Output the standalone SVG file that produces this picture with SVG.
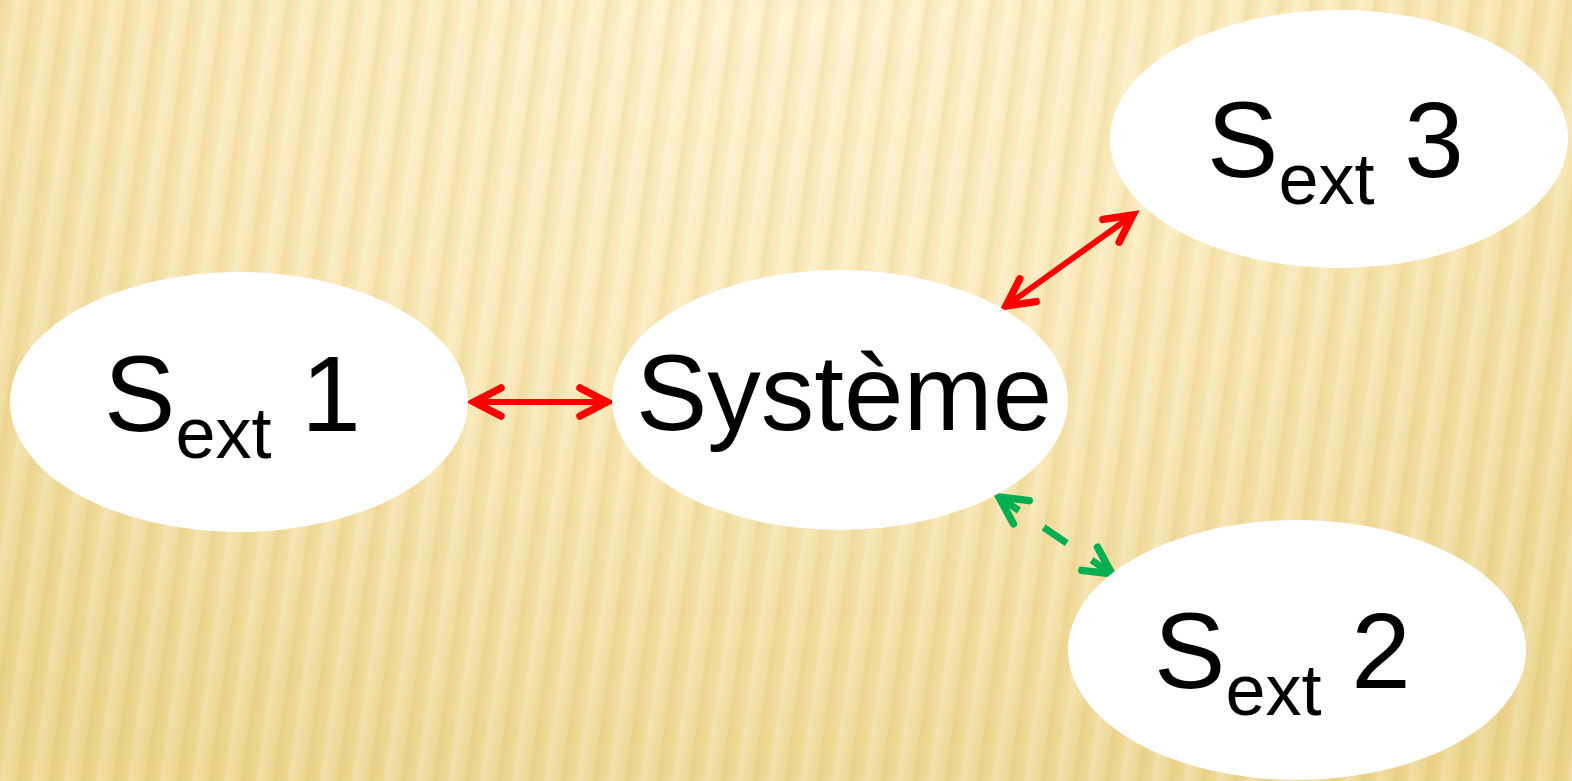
<svg xmlns="http://www.w3.org/2000/svg" width="1572" height="781" viewBox="0 0 1572 781">
  <defs>
    <radialGradient id="bg" cx="786" cy="-60" r="1250" gradientUnits="userSpaceOnUse" gradientTransform="translate(786 -60) scale(1 0.75) translate(-786 60)">
      <stop offset="0" stop-color="#FFF4D2"/>
      <stop offset="0.45" stop-color="#FBE9BA"/>
      <stop offset="1" stop-color="#ECD58E"/>
    </radialGradient>
    <linearGradient id="stripeG" x1="0" y1="0" x2="1" y2="0">
      <stop offset="0" stop-color="#D9B85A" stop-opacity="0.22"/>
      <stop offset="0.25" stop-color="#D9B85A" stop-opacity="0.06"/>
      <stop offset="0.5" stop-color="#FFFFFF" stop-opacity="0.22"/>
      <stop offset="0.75" stop-color="#FFFFFF" stop-opacity="0.06"/>
      <stop offset="1" stop-color="#D9B85A" stop-opacity="0.22"/>
    </linearGradient>
    <pattern id="stripes" width="32" height="800" patternUnits="userSpaceOnUse" patternTransform="skewX(-8)">
      <rect width="32" height="800" fill="url(#stripeG)"/>
    </pattern>
    <marker id="headR" markerUnits="userSpaceOnUse" viewBox="-40 -20 50 40" refX="0" refY="0" markerWidth="50" markerHeight="40" orient="auto-start-reverse" overflow="visible">
      <path d="M -27 -14 L 0 0 L -27 14" fill="none" stroke="#FF0000" stroke-width="7.5" stroke-linecap="round" stroke-linejoin="miter"/>
    </marker>
    <marker id="headG" markerUnits="userSpaceOnUse" viewBox="-40 -20 50 40" refX="0" refY="0" markerWidth="50" markerHeight="40" orient="auto-start-reverse" overflow="visible">
      <path d="M -27 -14 L 0 0 L -27 14" fill="none" stroke="#00B050" stroke-width="7.5" stroke-linecap="round" stroke-linejoin="miter"/>
    </marker>
    <style>
      .node { fill: #FFFFFF; }
      .lbl { font-family: "Liberation Sans", Arial, sans-serif; font-size: 107px; fill: #000000; }
      .sub { font-size: 72px; }
      .red { stroke: #FF0000; stroke-width: 6; fill: none; }
      .green { stroke: #00B050; stroke-width: 7; fill: none; stroke-dasharray: 24 30 28 30 30; }
    </style>
  </defs>

  <rect width="1572" height="781" fill="url(#bg)"/>
  <rect width="1572" height="781" fill="url(#stripes)"/>

  <g id="connectors">
    <line class="red" x1="474" y1="402" x2="607" y2="402" marker-start="url(#headR)" marker-end="url(#headR)"/>
    <line class="red" x1="1006" y1="306" x2="1133" y2="215" marker-start="url(#headR)" marker-end="url(#headR)"/>
    <line class="green" x1="999" y1="497" x2="1112" y2="574" marker-start="url(#headG)" marker-end="url(#headG)"/>
  </g>

  <g id="sext1">
    <ellipse class="node" cx="239" cy="402" rx="229" ry="130"/>
    <text class="lbl" x="104" y="431">S<tspan class="sub" dy="27">ext</tspan><tspan dy="-27"> 1</tspan></text>
  </g>

  <g id="systeme">
    <ellipse class="node" cx="840" cy="400" rx="228" ry="130"/>
    <text class="lbl" x="636" y="430">Système</text>
  </g>

  <g id="sext3">
    <ellipse class="node" cx="1339" cy="139" rx="229" ry="129"/>
    <text class="lbl" x="1207" y="177">S<tspan class="sub" dy="27">ext</tspan><tspan dy="-27"> 3</tspan></text>
  </g>

  <g id="sext2">
    <ellipse class="node" cx="1297" cy="650" rx="229" ry="130"/>
    <text class="lbl" x="1154" y="688">S<tspan class="sub" dy="27">ext</tspan><tspan dy="-27"> 2</tspan></text>
  </g>
</svg>
